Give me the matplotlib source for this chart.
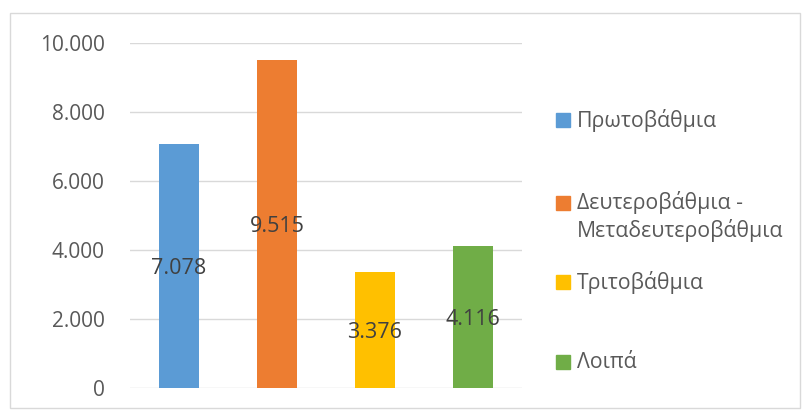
import matplotlib
matplotlib.use("Agg")
import matplotlib.pyplot as plt
from matplotlib.patches import Rectangle
from matplotlib.ticker import FuncFormatter

categories = ["Πρωτοβάθμια", "Δευτεροβάθμια -\nΜεταδευτεροβάθμια", "Τριτοβάθμια", "Λοιπά"]
values = [7078, 9515, 3376, 4116]
colors = ["#5B9BD5", "#ED7D31", "#FFC000", "#70AD47"]
yticks = [0, 2000, 4000, 6000, 8000, 10000]

plt.rcParams['font.family'] = ['Open Sans', 'DejaVu Sans']

W, H = 806, 412
fig = plt.figure(figsize=(W / 100, H / 100), dpi=100)

def fx(px):
    return px / W

def fy(py):
    return 1 - py / H

# chart border
fig.add_artist(Rectangle((fx(10), fy(408)), fx(790), 395 / H, transform=fig.transFigure,
                         fill=False, edgecolor="#D9D9D9", linewidth=1))

ax = fig.add_axes([fx(130), fy(388), fx(522) - fx(130), fy(43) - fy(388)])
x = list(range(len(values)))
bars = ax.bar(x, values, width=0.41, color=colors, zorder=3)
ax.set_xlim(-0.5, len(values) - 0.5)
ax.set_ylim(0, 10000)
ax.set_yticks(yticks)
ax.yaxis.set_major_formatter(FuncFormatter(lambda v, p: f"{int(v):,}".replace(",", ".")))
ax.set_xticks([])
ax.grid(axis='y', color="#D9D9D9", linewidth=1, zorder=0)
for s in ax.spines.values():
    s.set_visible(False)
ax.tick_params(axis='y', length=0, labelsize=15, labelcolor="#595959", pad=18)

for b, v in zip(bars, values):
    ax.text(b.get_x() + b.get_width() / 2, v / 2, f"{v:,}".replace(",", "."),
            ha='center', va='center_baseline', fontsize=15.5, color="#404040", zorder=4)

# legend
leg_y = [120, 203, 282, 362]
for cat, col, yy in zip(categories, colors, leg_y):
    fig.add_artist(Rectangle((fx(556), fy(yy + 7)), fx(14), 14 / H,
                             transform=fig.transFigure, color=col))
    lines = cat.split('\n')
    for i, line in enumerate(lines):
        fig.text(fx(577), fy(yy + 27 * i), line, ha='left', va='center',
                 fontsize=15.3, color="#595959")

fig.savefig("out.png", dpi=100)
